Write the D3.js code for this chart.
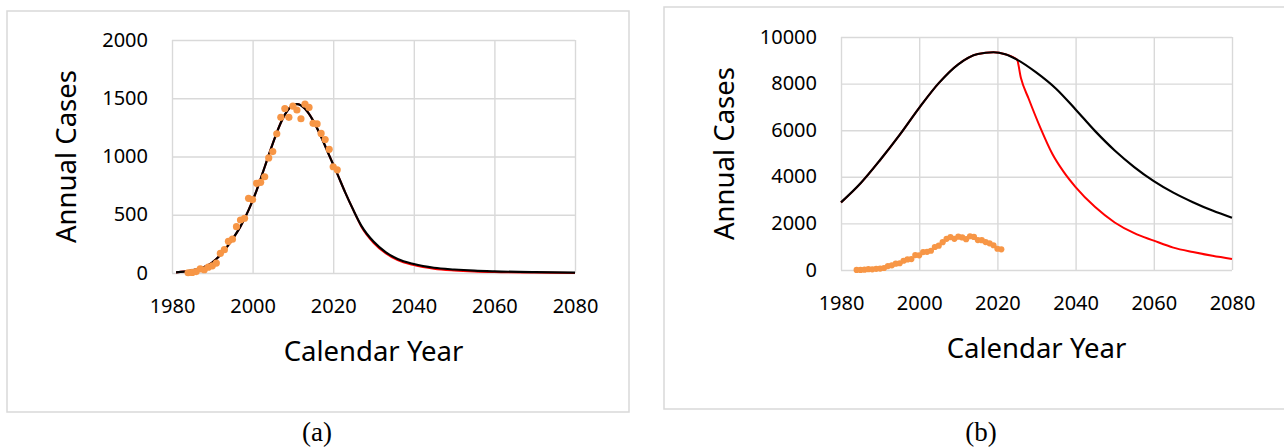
<!DOCTYPE html>
<html>
<head>
<meta charset="utf-8">
<script src="https://cdn.jsdelivr.net/npm/d3@7"></script>
<style>
  html, body { margin: 0; padding: 0; background: #fff; }
  svg { display: block; }
  text { font-family: "Noto Sans", "DejaVu Sans", sans-serif; fill: #000; }
</style>
</head>
<body>
<svg id="chart" width="1284" height="448"></svg>
<script>
// Observed annual cases (orange dots, same in both panels)
const obsYears = [1984, 1985, 1986, 1987, 1988, 1989, 1990, 1991, 1992, 1993,
                  1994, 1995, 1996, 1997, 1998, 1999, 2000, 2001, 2002, 2003,
                  2004, 2005, 2006, 2007, 2008, 2009, 2010, 2011, 2012, 2013,
                  2014, 2015, 2016, 2017, 2018, 2019, 2020, 2021];
const obsCases = [2, 5, 12, 35, 28, 50, 62, 85, 168, 200,
                  272, 290, 398, 455, 470, 641, 630, 770, 778, 826,
                  988, 1042, 1195, 1336, 1412, 1336, 1432, 1399, 1324, 1449,
                  1421, 1285, 1280, 1198, 1146, 1062, 912, 886];

// Panel (a): fitted model (black) and alternative projection after 2025 (red)
const fitYearsA = [1981, 1983, 1985, 1987, 1989, 1991, 1993, 1995, 1997, 1999,
                   2001, 2003, 2005, 2007, 2009, 2011, 2013, 2015, 2017, 2019,
                   2021, 2023, 2025, 2027, 2030, 2033, 2036, 2040, 2045, 2050,
                   2055, 2060, 2070, 2080];
const fitCasesA = [5, 12, 22, 40, 67, 120, 195, 290, 400, 540,
                   710, 910, 1110, 1290, 1410, 1450, 1410, 1310, 1170, 1010,
                   853, 690, 540, 405, 270, 180, 120, 77, 45, 30,
                   20, 14, 7, 3];
const branchYearsA = [2027, 2030, 2033, 2036, 2040, 2045, 2050, 2055, 2060, 2070, 2080];
const branchCasesA = [398, 260, 170, 110, 68, 37, 22, 13, 8, 4, 1];
const yTicksA = [0, 500, 1000, 1500, 2000];

// Panel (b): fitted model (black) and alternative projection after 2025 (red)
const fitYearsB = [1980, 1985, 1990, 1995, 2000, 2005, 2010, 2015, 2019, 2022,
                   2025, 2030, 2035, 2040, 2045, 2050, 2055, 2060, 2065, 2070,
                   2075, 2080];
const fitCasesB = [2900, 3720, 4720, 5800, 6960, 8020, 8830, 9270, 9345, 9260,
                   9030, 8470, 7780, 6890, 5960, 5130, 4420, 3815, 3320, 2910,
                   2550, 2245];
const branchYearsB = [2026, 2028, 2031, 2034, 2037, 2040, 2045, 2050, 2055, 2060,
                      2065, 2070, 2075, 2080];
const branchCasesB = [8250, 7350, 6100, 5000, 4200, 3560, 2700, 2040, 1580, 1260,
                      960, 770, 610, 475];
const yTicksB = [0, 2000, 4000, 6000, 8000, 10000];

const xTicks = [1980, 2000, 2020, 2040, 2060, 2080];
const xTitle = "Calendar Year";
const yTitle = "Annual Cases";

const panels = [
  {
    box: { x: 7, y: 11, w: 622, h: 401 },
    plot: { left: 172, right: 575, top: 40, bottom: 273 },
    yMax: 2000, yTicks: yTicksA,
    fitYears: fitYearsA, fitCases: fitCasesA,
    branchYears: branchYearsA, branchCases: branchCasesA,
    dotR: 3.6, yTitleX: 75.5, caption: "(a)", captionX: 317
  },
  {
    box: { x: 664, y: 7, w: 640, h: 402 },
    plot: { left: 841, right: 1232, top: 37, bottom: 270 },
    yMax: 10000, yTicks: yTicksB,
    fitYears: fitYearsB, fitCases: fitCasesB,
    branchYears: branchYearsB, branchCases: branchCasesB,
    dotR: 3.1, yTitleX: 733.5, caption: "(b)", captionX: 981
  }
];

const svg = d3.select("#chart");
const gridColor = "#d9d9d9";

panels.forEach(p => {
  // outer frame
  svg.append("rect")
    .attr("x", p.box.x).attr("y", p.box.y)
    .attr("width", p.box.w).attr("height", p.box.h)
    .attr("fill", "none").attr("stroke", gridColor).attr("stroke-width", 1.5);

  const x = d3.scaleLinear().domain([1980, 2080]).range([p.plot.left, p.plot.right]);
  const y = d3.scaleLinear().domain([0, p.yMax]).range([p.plot.bottom, p.plot.top]);
  const w = p.plot.right - p.plot.left;
  const h = p.plot.bottom - p.plot.top;

  // vertical gridlines + year labels
  const gx = svg.append("g")
    .attr("transform", `translate(0,${p.plot.bottom})`)
    .call(d3.axisBottom(x).tickValues(xTicks).tickFormat(d3.format("d"))
      .tickSize(-h).tickPadding(24));
  gx.select(".domain").remove();
  gx.selectAll(".tick line").attr("stroke", gridColor).attr("stroke-width", 1.4);
  gx.selectAll(".tick text")
    .attr("y", 39.5).attr("dy", null)
    .style("font-size", "20px").attr("fill", "#000");

  // horizontal gridlines + value labels
  const gy = svg.append("g")
    .attr("transform", `translate(${p.plot.left},0)`)
    .call(d3.axisLeft(y).tickValues(p.yTicks).tickFormat(d3.format("d"))
      .tickSize(-w).tickPadding(24));
  gy.select(".domain").remove();
  gy.selectAll(".tick line").attr("stroke", gridColor).attr("stroke-width", 1.4);
  gy.selectAll(".tick text")
    .attr("dy", "0.3em")
    .style("font-size", "20px").attr("fill", "#000");

  const line = d3.line()
    .x(d => x(d[0])).y(d => y(d[1]))
    .curve(d3.curveMonotoneX);

  const fit = p.fitYears.map((yr, i) => [yr, p.fitCases[i]]);
  const alt = fit.filter(d => d[0] <= 2025)
    .concat(p.branchYears.map((yr, i) => [yr, p.branchCases[i]]));

  // red projection underneath, black fit on top
  svg.append("path").datum(alt)
    .attr("d", line).attr("fill", "none")
    .attr("stroke", "#ff0000").attr("stroke-width", 2);
  svg.append("path").datum(fit)
    .attr("d", line).attr("fill", "none")
    .attr("stroke", "#000").attr("stroke-width", 2.2);

  // observed cases
  svg.append("g").selectAll("circle")
    .data(obsYears.map((yr, i) => [yr, obsCases[i]]))
    .join("circle")
    .attr("cx", d => x(d[0])).attr("cy", d => y(d[1]))
    .attr("r", p.dotR).attr("fill", "#f79646");

  // axis titles
  svg.append("text")
    .attr("x", (p.plot.left + p.plot.right) / 2)
    .attr("y", p.plot.bottom + 88)
    .attr("text-anchor", "middle")
    .style("font-size", "27.5px")
    .text(xTitle);
  svg.append("text")
    .attr("transform", `translate(${p.yTitleX},${(p.plot.top + p.plot.bottom) / 2}) rotate(-90)`)
    .attr("text-anchor", "middle")
    .style("font-size", "27.5px")
    .text(yTitle);

  // panel caption
  svg.append("text")
    .attr("x", p.captionX).attr("y", 441)
    .attr("text-anchor", "middle")
    .style("font-family", "'Liberation Serif', 'DejaVu Serif', serif")
    .style("font-size", "27px")
    .text(p.caption);
});
</script>
</body>
</html>
